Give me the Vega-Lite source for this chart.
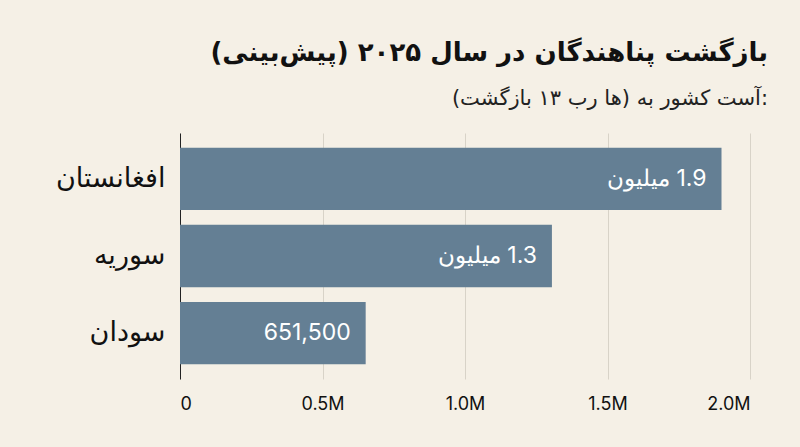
{
  "$schema": "https://vega.github.io/schema/vega-lite/v6.json",
  "autosize": "none",
  "padding": {"left": 180, "top": 133, "right": 50, "bottom": 68},
  "width": 570,
  "height": 246,
  "background": "#f5f0e6",
  "title": {
    "text": "\u200fبازگشت پناهندگان در سال ۲۰۲۵ (پیش\u200cبینی)\u200f",
    "subtitle": "\u200f:آست کشور به (ها رب ۱۳ بازگشت)\u200f",
    "anchor": "end",
    "frame": "group",
    "dx": 18,
    "offset": 24,
    "font": "DejaVu Sans",
    "fontSize": 26,
    "fontWeight": "bold",
    "color": "#111111",
    "subtitleFont": "DejaVu Sans",
    "subtitleFontSize": 21,
    "subtitleColor": "#222222",
    "subtitlePadding": 22
  },
  "data": {
    "values": [
      {"country": "افغانستان", "returns": 1900000, "label": "\u200f1.9 میلیون"},
      {"country": "سوریه", "returns": 1305000, "label": "\u200f1.3 میلیون"},
      {"country": "سودان", "returns": 651500, "label": "651,500"}
    ]
  },
  "encoding": {
    "y": {
      "field": "country",
      "type": "nominal",
      "sort": ["افغانستان", "سوریه", "سودان"],
      "scale": {"paddingInner": 0.19, "paddingOuter": 0.19},
      "axis": {
        "title": null,
        "ticks": false,
        "domainColor": "#222222",
        "domainWidth": 1,
        "labelFont": "DejaVu Sans",
        "labelFontSize": 27,
        "labelColor": "#111111",
        "labelPadding": 15
      }
    },
    "x": {
      "field": "returns",
      "type": "quantitative",
      "scale": {"domain": [0, 2000000]},
      "axis": {
        "title": null,
        "values": [0, 500000, 1000000, 1500000, 2000000],
        "labelExpr": "datum.value == 0 ? '0' : format(datum.value / 1000000, '.1f') + 'M'",
        "ticks": false,
        "domain": false,
        "grid": true,
        "gridColor": "#d8d3c8",
        "gridWidth": 1,
        "labelFont": "Inter",
        "labelFontSize": 18,
        "labelColor": "#111111",
        "labelPadding": 16
      }
    }
  },
  "layer": [
    {"mark": {"type": "bar", "color": "#647f94"}},
    {
      "mark": {
        "type": "text",
        "align": "right",
        "baseline": "middle",
        "dx": -15,
        "font": "Inter",
        "fontSize": 23,
        "color": "#ffffff"
      },
      "encoding": {"text": {"field": "label"}}
    }
  ],
  "config": {"view": {"stroke": null}}
}
